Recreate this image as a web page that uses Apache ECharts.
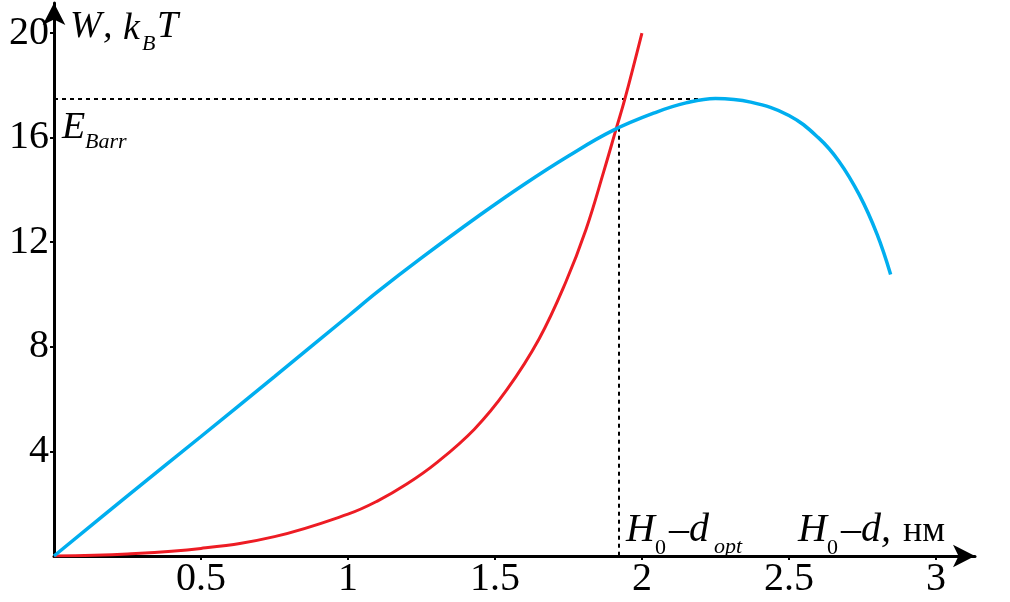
<!DOCTYPE html>
<html>
<head>
<meta charset="utf-8">
<script src="https://cdn.jsdelivr.net/npm/echarts@6/dist/echarts.min.js"></script>
<style>
html,body{margin:0;padding:0;background:#fff;}
#chart{width:1010px;height:602px;}
</style>
</head>
<body>
<div id="chart"></div>
<script>
// ---- data ----
const xTickLabels = [0.5, 1, 1.5, 2, 2.5, 3];
const yTickLabels = [4, 8, 12, 16, 20];

const blueX = [0, 0.25, 0.5, 0.75, 1.0, 1.1, 1.25, 1.45, 1.6, 1.75, 1.9, 2.05, 2.15, 2.25, 2.37, 2.5, 2.6, 2.67, 2.74, 2.8, 2.846];
const blueW = [0, 2.3, 4.57, 6.86, 9.17, 10.1, 11.4, 13.05, 14.22, 15.3, 16.27, 16.98, 17.33, 17.5, 17.36, 16.85, 16.0, 15.1, 13.8, 12.3, 10.77];

const redX = [0, 0.25, 0.5, 0.75, 1.0, 1.1, 1.2, 1.3, 1.43, 1.54, 1.65, 1.74, 1.81, 1.87, 1.914, 1.942, 2.0];
const redW = [0, 0.08, 0.29, 0.74, 1.6, 2.1, 2.75, 3.55, 4.85, 6.35, 8.3, 10.45, 12.5, 14.7, 16.4, 17.48, 20.0];

const barrierW = 17.48;   // E_Barr level
const barrierEndX = 2.276;
const optX = 1.922;       // H0 - d_opt
const optW = 16.38;

// ---- chart ----
const serif = "'Liberation Serif', 'DejaVu Serif', serif";
const chart = echarts.init(document.getElementById('chart'), null, {renderer: 'canvas'});

function zip(xs, ys) { return xs.map((x, i) => [x, ys[i]]); }

function txt(text, x, cy, size, italic) {
  return {
    type: 'text', x: x, y: cy, z: 100,
    style: {
      text: text, fill: '#000',
      font: (italic ? 'italic ' : '') + size + 'px ' + serif,
      align: 'left', verticalAlign: 'middle'
    }
  };
}

const dashStyle = {color: '#000', width: 2, type: [4, 4]};

const option = {
  animation: false,
  backgroundColor: '#fff',
  grid: {left: 54, right: 35, top: 3, bottom: 46, containLabel: false, outerBoundsMode: 'none'},
  xAxis: {
    type: 'value', min: 0, max: 3.133, interval: 0.5,
    splitLine: {show: false},
    axisLine: {show: true, onZero: false, symbol: ['none', 'arrow'], symbolSize: [17, 22],
      lineStyle: {color: '#000', width: 3}},
    axisTick: {show: true, length: 4, lineStyle: {color: '#000', width: 2}, customValues: xTickLabels},
    axisLabel: {customValues: xTickLabels, color: '#000', fontFamily: serif, fontSize: 40, margin: 3}
  },
  yAxis: {
    type: 'value', min: 0, max: 21.15, interval: 4,
    splitLine: {show: false},
    axisLine: {show: true, onZero: false, symbol: ['none', 'arrow'], symbolSize: [17, 22],
      lineStyle: {color: '#000', width: 3}},
    axisTick: {show: true, length: 4, lineStyle: {color: '#000', width: 2}, customValues: yTickLabels},
    axisLabel: {customValues: yTickLabels, color: '#000', fontFamily: serif, fontSize: 40, margin: 5}
  },
  series: [
    {
      type: 'line', name: 'red', data: zip(redX, redW), smooth: 0.4, showSymbol: false, z: 3,
      lineStyle: {color: '#ED1C24', width: 3}
    },
    {
      type: 'line', name: 'blue', data: zip(blueX, blueW), smooth: 0.4, showSymbol: false, z: 4,
      lineStyle: {color: '#00AEEF', width: 3.5},
      markLine: {
        silent: true, symbol: 'none', label: {show: false}, z: 2,
        lineStyle: dashStyle,
        data: [
          [{coord: [0, barrierW]}, {coord: [barrierEndX, barrierW]}],
          [{coord: [optX, optW]}, {coord: [optX, 0]}]
        ]
      }
    }
  ],
  graphic: [
    txt('W', 70, 27, 38, true),
    txt(',', 103, 27, 38, true),
    txt('k', 123, 29, 38, true),
    txt('B', 142, 44, 22, true),
    txt('T', 157, 27, 38, true),
    txt('E', 62, 128, 38, true),
    txt('Barr', 85, 142, 22, true),
    txt('H', 626, 530, 40, true),
    txt('0', 655, 548, 22, false),
    txt('–d', 669, 530, 40, true),
    txt('opt', 714, 547, 22, true),
    txt('H', 798, 530, 40, true),
    txt('0', 827, 548, 22, false),
    txt('–d,', 841, 530, 40, true),
    txt('нм', 903, 532, 36, false)
  ]
};
chart.setOption(option);
</script>
</body>
</html>
